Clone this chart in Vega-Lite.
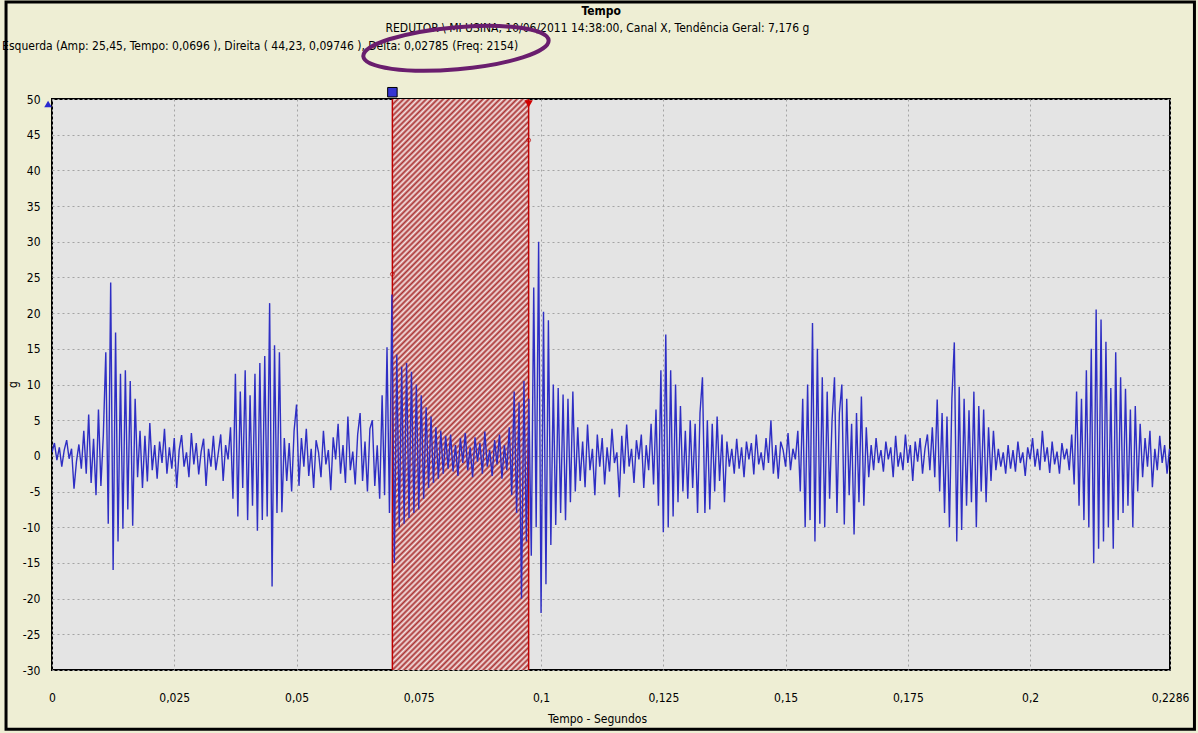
{
"$schema": "https://vega.github.io/schema/vega-lite/v6.json",
"width": 1118,
"height": 571,
"autosize": {"type": "none"},
"padding": {"left": 52, "top": 99, "right": 28, "bottom": 63},
"background": "#eeeed4",
"config": {
  "font": "Liberation Sans Narrow, DejaVu Sans Condensed, sans-serif",
  "view": {"fill": "#e4e4e4", "stroke": "#000000", "strokeWidth": 2},
  "axis": {"labelFont": "Liberation Sans Narrow, DejaVu Sans Condensed, sans-serif", "labelFontSize": 12, "labelColor": "#000000", "titleFont": "Liberation Sans Narrow, DejaVu Sans Condensed, sans-serif", "titleFontSize": 12, "titleColor": "#000000", "titleFontWeight": "normal"}
},
"encoding": {
  "x": {"type": "quantitative", "scale": {"domain": [0, 0.2286], "nice": false, "zero": false},
    "axis": {"values": [0, 0.025, 0.05, 0.075, 0.1, 0.125, 0.15, 0.175, 0.2, 0.2286], "labelExpr": "replace(format(datum.value, ''), '.', ',')", "labelFlush": false, "labelOverlap": false, "labelPadding": 22, "ticks": false, "tickSize": 0, "domain": false, "grid": true, "gridDash": [2, 3], "gridColor": "#a4a4a4", "title": "Tempo - Segundos", "titleX": 545, "titleY": 48, "titleBaseline": "middle"}},
  "y": {"type": "quantitative", "scale": {"domain": [-30, 50], "nice": false, "zero": false},
    "axis": {"values": [-30, -25, -20, -15, -10, -5, 0, 5, 10, 15, 20, 25, 30, 35, 40, 45, 50], "labelExpr": "'' + datum.value", "labelPadding": 12, "ticks": false, "tickSize": 0, "domain": false, "grid": true, "gridDash": [2, 3], "gridColor": "#a4a4a4", "title": "g", "titleX": -40, "titleY": 285, "titleBaseline": "middle"}}
},
"layer": [
  {
    "data": {"values": [{}]},
    "mark": {"type": "rect", "fill": {"gradient": "linear", "x1": 0, "y1": 0, "x2": 0.2789, "y2": 1.1716, "stops": [
      {"offset":0,"color":"#a33"},{"offset":0.004,"color":"#f6e6e6"},{"offset":0.008,"color":"#a33"},{"offset":0.012,"color":"#f6e6e6"},{"offset":0.016,"color":"#a33"},{"offset":0.02,"color":"#f6e6e6"},{"offset":0.024,"color":"#a33"},{"offset":0.028,"color":"#f6e6e6"},{"offset":0.032,"color":"#a33"},{"offset":0.036,"color":"#f6e6e6"},
      {"offset":0.04,"color":"#a33"},{"offset":0.044,"color":"#f6e6e6"},{"offset":0.048,"color":"#a33"},{"offset":0.052,"color":"#f6e6e6"},{"offset":0.056,"color":"#a33"},{"offset":0.06,"color":"#f6e6e6"},{"offset":0.064,"color":"#a33"},{"offset":0.068,"color":"#f6e6e6"},{"offset":0.072,"color":"#a33"},{"offset":0.076,"color":"#f6e6e6"},
      {"offset":0.08,"color":"#a33"},{"offset":0.084,"color":"#f6e6e6"},{"offset":0.088,"color":"#a33"},{"offset":0.092,"color":"#f6e6e6"},{"offset":0.096,"color":"#a33"},{"offset":0.1,"color":"#f6e6e6"},{"offset":0.104,"color":"#a33"},{"offset":0.108,"color":"#f6e6e6"},{"offset":0.112,"color":"#a33"},{"offset":0.116,"color":"#f6e6e6"},
      {"offset":0.12,"color":"#a33"},{"offset":0.124,"color":"#f6e6e6"},{"offset":0.128,"color":"#a33"},{"offset":0.132,"color":"#f6e6e6"},{"offset":0.136,"color":"#a33"},{"offset":0.14,"color":"#f6e6e6"},{"offset":0.144,"color":"#a33"},{"offset":0.148,"color":"#f6e6e6"},{"offset":0.152,"color":"#a33"},{"offset":0.156,"color":"#f6e6e6"},
      {"offset":0.16,"color":"#a33"},{"offset":0.164,"color":"#f6e6e6"},{"offset":0.168,"color":"#a33"},{"offset":0.172,"color":"#f6e6e6"},{"offset":0.176,"color":"#a33"},{"offset":0.18,"color":"#f6e6e6"},{"offset":0.184,"color":"#a33"},{"offset":0.188,"color":"#f6e6e6"},{"offset":0.192,"color":"#a33"},{"offset":0.196,"color":"#f6e6e6"},
      {"offset":0.2,"color":"#a33"},{"offset":0.204,"color":"#f6e6e6"},{"offset":0.208,"color":"#a33"},{"offset":0.212,"color":"#f6e6e6"},{"offset":0.216,"color":"#a33"},{"offset":0.22,"color":"#f6e6e6"},{"offset":0.224,"color":"#a33"},{"offset":0.228,"color":"#f6e6e6"},{"offset":0.232,"color":"#a33"},{"offset":0.236,"color":"#f6e6e6"},
      {"offset":0.24,"color":"#a33"},{"offset":0.244,"color":"#f6e6e6"},{"offset":0.248,"color":"#a33"},{"offset":0.252,"color":"#f6e6e6"},{"offset":0.256,"color":"#a33"},{"offset":0.26,"color":"#f6e6e6"},{"offset":0.264,"color":"#a33"},{"offset":0.268,"color":"#f6e6e6"},{"offset":0.272,"color":"#a33"},{"offset":0.276,"color":"#f6e6e6"},
      {"offset":0.28,"color":"#a33"},{"offset":0.284,"color":"#f6e6e6"},{"offset":0.288,"color":"#a33"},{"offset":0.292,"color":"#f6e6e6"},{"offset":0.296,"color":"#a33"},{"offset":0.3,"color":"#f6e6e6"},{"offset":0.304,"color":"#a33"},{"offset":0.308,"color":"#f6e6e6"},{"offset":0.312,"color":"#a33"},{"offset":0.316,"color":"#f6e6e6"},
      {"offset":0.32,"color":"#a33"},{"offset":0.324,"color":"#f6e6e6"},{"offset":0.328,"color":"#a33"},{"offset":0.332,"color":"#f6e6e6"},{"offset":0.336,"color":"#a33"},{"offset":0.34,"color":"#f6e6e6"},{"offset":0.344,"color":"#a33"},{"offset":0.348,"color":"#f6e6e6"},{"offset":0.352,"color":"#a33"},{"offset":0.356,"color":"#f6e6e6"},
      {"offset":0.36,"color":"#a33"},{"offset":0.364,"color":"#f6e6e6"},{"offset":0.368,"color":"#a33"},{"offset":0.372,"color":"#f6e6e6"},{"offset":0.376,"color":"#a33"},{"offset":0.38,"color":"#f6e6e6"},{"offset":0.384,"color":"#a33"},{"offset":0.388,"color":"#f6e6e6"},{"offset":0.392,"color":"#a33"},{"offset":0.396,"color":"#f6e6e6"},
      {"offset":0.4,"color":"#a33"},{"offset":0.404,"color":"#f6e6e6"},{"offset":0.408,"color":"#a33"},{"offset":0.412,"color":"#f6e6e6"},{"offset":0.416,"color":"#a33"},{"offset":0.42,"color":"#f6e6e6"},{"offset":0.424,"color":"#a33"},{"offset":0.428,"color":"#f6e6e6"},{"offset":0.432,"color":"#a33"},{"offset":0.436,"color":"#f6e6e6"},
      {"offset":0.44,"color":"#a33"},{"offset":0.444,"color":"#f6e6e6"},{"offset":0.448,"color":"#a33"},{"offset":0.452,"color":"#f6e6e6"},{"offset":0.456,"color":"#a33"},{"offset":0.46,"color":"#f6e6e6"},{"offset":0.464,"color":"#a33"},{"offset":0.468,"color":"#f6e6e6"},{"offset":0.472,"color":"#a33"},{"offset":0.476,"color":"#f6e6e6"},
      {"offset":0.48,"color":"#a33"},{"offset":0.484,"color":"#f6e6e6"},{"offset":0.488,"color":"#a33"},{"offset":0.492,"color":"#f6e6e6"},{"offset":0.496,"color":"#a33"},{"offset":0.5,"color":"#f6e6e6"},{"offset":0.504,"color":"#a33"},{"offset":0.508,"color":"#f6e6e6"},{"offset":0.512,"color":"#a33"},{"offset":0.516,"color":"#f6e6e6"},
      {"offset":0.52,"color":"#a33"},{"offset":0.524,"color":"#f6e6e6"},{"offset":0.528,"color":"#a33"},{"offset":0.532,"color":"#f6e6e6"},{"offset":0.536,"color":"#a33"},{"offset":0.54,"color":"#f6e6e6"},{"offset":0.544,"color":"#a33"},{"offset":0.548,"color":"#f6e6e6"},{"offset":0.552,"color":"#a33"},{"offset":0.556,"color":"#f6e6e6"},
      {"offset":0.56,"color":"#a33"},{"offset":0.564,"color":"#f6e6e6"},{"offset":0.568,"color":"#a33"},{"offset":0.572,"color":"#f6e6e6"},{"offset":0.576,"color":"#a33"},{"offset":0.58,"color":"#f6e6e6"},{"offset":0.584,"color":"#a33"},{"offset":0.588,"color":"#f6e6e6"},{"offset":0.592,"color":"#a33"},{"offset":0.596,"color":"#f6e6e6"},
      {"offset":0.6,"color":"#a33"},{"offset":0.604,"color":"#f6e6e6"},{"offset":0.608,"color":"#a33"},{"offset":0.612,"color":"#f6e6e6"},{"offset":0.616,"color":"#a33"},{"offset":0.62,"color":"#f6e6e6"},{"offset":0.624,"color":"#a33"},{"offset":0.628,"color":"#f6e6e6"},{"offset":0.632,"color":"#a33"},{"offset":0.636,"color":"#f6e6e6"},
      {"offset":0.64,"color":"#a33"},{"offset":0.644,"color":"#f6e6e6"},{"offset":0.648,"color":"#a33"},{"offset":0.652,"color":"#f6e6e6"},{"offset":0.656,"color":"#a33"},{"offset":0.66,"color":"#f6e6e6"},{"offset":0.664,"color":"#a33"},{"offset":0.668,"color":"#f6e6e6"},{"offset":0.672,"color":"#a33"},{"offset":0.676,"color":"#f6e6e6"},
      {"offset":0.68,"color":"#a33"},{"offset":0.684,"color":"#f6e6e6"},{"offset":0.688,"color":"#a33"},{"offset":0.692,"color":"#f6e6e6"},{"offset":0.696,"color":"#a33"},{"offset":0.7,"color":"#f6e6e6"},{"offset":0.704,"color":"#a33"},{"offset":0.708,"color":"#f6e6e6"},{"offset":0.712,"color":"#a33"},{"offset":0.716,"color":"#f6e6e6"},
      {"offset":0.72,"color":"#a33"},{"offset":0.724,"color":"#f6e6e6"},{"offset":0.728,"color":"#a33"},{"offset":0.732,"color":"#f6e6e6"},{"offset":0.736,"color":"#a33"},{"offset":0.74,"color":"#f6e6e6"},{"offset":0.744,"color":"#a33"},{"offset":0.748,"color":"#f6e6e6"},{"offset":0.752,"color":"#a33"},{"offset":0.756,"color":"#f6e6e6"},
      {"offset":0.76,"color":"#a33"},{"offset":0.764,"color":"#f6e6e6"},{"offset":0.768,"color":"#a33"},{"offset":0.772,"color":"#f6e6e6"},{"offset":0.776,"color":"#a33"},{"offset":0.78,"color":"#f6e6e6"},{"offset":0.784,"color":"#a33"},{"offset":0.788,"color":"#f6e6e6"},{"offset":0.792,"color":"#a33"},{"offset":0.796,"color":"#f6e6e6"},
      {"offset":0.8,"color":"#a33"},{"offset":0.804,"color":"#f6e6e6"},{"offset":0.808,"color":"#a33"},{"offset":0.812,"color":"#f6e6e6"},{"offset":0.816,"color":"#a33"},{"offset":0.82,"color":"#f6e6e6"},{"offset":0.824,"color":"#a33"},{"offset":0.828,"color":"#f6e6e6"},{"offset":0.832,"color":"#a33"},{"offset":0.836,"color":"#f6e6e6"},
      {"offset":0.84,"color":"#a33"},{"offset":0.844,"color":"#f6e6e6"},{"offset":0.848,"color":"#a33"},{"offset":0.852,"color":"#f6e6e6"},{"offset":0.856,"color":"#a33"},{"offset":0.86,"color":"#f6e6e6"},{"offset":0.864,"color":"#a33"},{"offset":0.868,"color":"#f6e6e6"},{"offset":0.872,"color":"#a33"},{"offset":0.876,"color":"#f6e6e6"},
      {"offset":0.88,"color":"#a33"},{"offset":0.884,"color":"#f6e6e6"},{"offset":0.888,"color":"#a33"},{"offset":0.892,"color":"#f6e6e6"},{"offset":0.896,"color":"#a33"},{"offset":0.9,"color":"#f6e6e6"},{"offset":0.904,"color":"#a33"},{"offset":0.908,"color":"#f6e6e6"},{"offset":0.912,"color":"#a33"},{"offset":0.916,"color":"#f6e6e6"},
      {"offset":0.92,"color":"#a33"},{"offset":0.924,"color":"#f6e6e6"},{"offset":0.928,"color":"#a33"},{"offset":0.932,"color":"#f6e6e6"},{"offset":0.936,"color":"#a33"},{"offset":0.94,"color":"#f6e6e6"},{"offset":0.944,"color":"#a33"},{"offset":0.948,"color":"#f6e6e6"},{"offset":0.952,"color":"#a33"},{"offset":0.956,"color":"#f6e6e6"},
      {"offset":0.96,"color":"#a33"},{"offset":0.964,"color":"#f6e6e6"},{"offset":0.968,"color":"#a33"},{"offset":0.972,"color":"#f6e6e6"},{"offset":0.976,"color":"#a33"},{"offset":0.98,"color":"#f6e6e6"},{"offset":0.984,"color":"#a33"},{"offset":0.988,"color":"#f6e6e6"},{"offset":0.992,"color":"#a33"},{"offset":0.996,"color":"#f6e6e6"},
      {"offset":1,"color":"#a33"}
    ]}},
    "encoding": {"x": {"datum": 0.0696, "type": "quantitative"}, "x2": {"datum": 0.09746}, "y": {"datum": 50, "type": "quantitative"}, "y2": {"datum": -30}}
  },
  {
    "data": {"values": [{"t": 0.0696, "g": 25.45}, {"t": 0.09746, "g": 44.23}]},
    "mark": {"type": "rule", "color": "#c00000", "strokeWidth": 1.5},
    "encoding": {"x": {"field": "t", "type": "quantitative"}}
  },
  {
    "data": {"values": [
{"t":0,"g":0.5},{"t":0.0005,"g":1.8},{"t":0.001,"g":-0.6},{"t":0.0015,"g":1.2},{"t":0.002,"g":-1.5},{"t":0.0025,"g":0.8},{"t":0.003,"g":2.2},{"t":0.0035,"g":-0.4},{"t":0.004,"g":1.0},{"t":0.0045,"g":-4.6},
{"t":0.005,"g":-0.8},{"t":0.0055,"g":1.6},{"t":0.006,"g":-1.8},{"t":0.0065,"g":3.5},{"t":0.007,"g":-2.5},{"t":0.0075,"g":5.8},{"t":0.008,"g":-3.8},{"t":0.0085,"g":2.4},{"t":0.009,"g":-5.5},{"t":0.0095,"g":6.5},
{"t":0.01,"g":-4.2},{"t":0.0105,"g":3.0},{"t":0.011,"g":14.5},{"t":0.0115,"g":-9.5},{"t":0.012,"g":24.3},{"t":0.0125,"g":-16.0},{"t":0.013,"g":17.3},{"t":0.0135,"g":-12.0},{"t":0.014,"g":11.5},{"t":0.0145,"g":-10.2},
{"t":0.015,"g":12.0},{"t":0.0155,"g":-7.5},{"t":0.016,"g":10.5},{"t":0.0165,"g":-9.8},{"t":0.017,"g":8.0},{"t":0.0175,"g":-3.0},{"t":0.018,"g":3.5},{"t":0.0185,"g":-4.5},{"t":0.019,"g":2.8},{"t":0.0195,"g":-3.6},
{"t":0.02,"g":4.6},{"t":0.0205,"g":-2.0},{"t":0.021,"g":1.5},{"t":0.0215,"g":-3.2},{"t":0.022,"g":2.0},{"t":0.0225,"g":-1.0},{"t":0.023,"g":3.8},{"t":0.0235,"g":-2.5},{"t":0.024,"g":1.2},{"t":0.0245,"g":-1.8},
{"t":0.025,"g":2.5},{"t":0.0255,"g":-4.5},{"t":0.026,"g":0.8},{"t":0.0265,"g":2.9},{"t":0.027,"g":-1.5},{"t":0.0275,"g":0.5},{"t":0.028,"g":-3.0},{"t":0.0285,"g":3.2},{"t":0.029,"g":-1.2},{"t":0.0295,"g":1.8},
{"t":0.03,"g":-2.6},{"t":0.0305,"g":0.6},{"t":0.031,"g":2.4},{"t":0.0315,"g":-4.2},{"t":0.032,"g":1.0},{"t":0.0325,"g":-1.5},{"t":0.033,"g":2.8},{"t":0.0335,"g":-2.0},{"t":0.034,"g":0.4},{"t":0.0345,"g":3.0},
{"t":0.035,"g":-3.5},{"t":0.0355,"g":1.5},{"t":0.036,"g":-0.5},{"t":0.0365,"g":4.0},{"t":0.037,"g":-6.0},{"t":0.0375,"g":11.5},{"t":0.038,"g":-8.5},{"t":0.0385,"g":9.0},{"t":0.039,"g":-4.5},{"t":0.0395,"g":12.0},
{"t":0.04,"g":-9.0},{"t":0.0405,"g":8.5},{"t":0.041,"g":-7.0},{"t":0.0415,"g":11.5},{"t":0.042,"g":-10.5},{"t":0.0425,"g":13.0},{"t":0.043,"g":-9.0},{"t":0.0435,"g":14.0},{"t":0.044,"g":-8.5},{"t":0.0445,"g":21.4},
{"t":0.045,"g":-18.3},{"t":0.0455,"g":15.5},{"t":0.046,"g":-8.0},{"t":0.0465,"g":14.5},{"t":0.047,"g":-7.9},{"t":0.0475,"g":2.5},{"t":0.048,"g":-3.5},{"t":0.0485,"g":1.8},{"t":0.049,"g":-5.0},{"t":0.0495,"g":3.5},
{"t":0.05,"g":7.2},{"t":0.0505,"g":-4.2},{"t":0.051,"g":2.5},{"t":0.0515,"g":-1.5},{"t":0.052,"g":3.8},{"t":0.0525,"g":-2.8},{"t":0.053,"g":1.0},{"t":0.0535,"g":-4.5},{"t":0.054,"g":2.2},{"t":0.0545,"g":0.5},
{"t":0.055,"g":-3.0},{"t":0.0555,"g":3.5},{"t":0.056,"g":-1.2},{"t":0.0565,"g":0.8},{"t":0.057,"g":-4.8},{"t":0.0575,"g":2.6},{"t":0.058,"g":-0.5},{"t":0.0585,"g":4.5},{"t":0.059,"g":-2.5},{"t":0.0595,"g":1.5},
{"t":0.06,"g":-3.8},{"t":0.0605,"g":5.5},{"t":0.061,"g":-2.0},{"t":0.0615,"g":0.6},{"t":0.062,"g":-4.0},{"t":0.0625,"g":3.0},{"t":0.063,"g":6.0},{"t":0.0635,"g":-3.5},{"t":0.064,"g":2.0},{"t":0.0645,"g":-5.0},
{"t":0.065,"g":3.8},{"t":0.0655,"g":5.0},{"t":0.066,"g":-4.2},{"t":0.0665,"g":1.5},{"t":0.067,"g":-6.0},{"t":0.0675,"g":8.5},{"t":0.068,"g":-5.5},{"t":0.0685,"g":15.2},{"t":0.069,"g":-8.0},{"t":0.0695,"g":22.6},
{"t":0.07,"g":-15.0},{"t":0.0705,"g":14.2},{"t":0.071,"g":-10.0},{"t":0.0715,"g":12.5},{"t":0.072,"g":-9.5},{"t":0.0725,"g":13.0},{"t":0.073,"g":-8.7},{"t":0.0735,"g":11.8},{"t":0.074,"g":-8.0},{"t":0.0745,"g":10.0},
{"t":0.075,"g":-7.5},{"t":0.0755,"g":8.5},{"t":0.076,"g":-6.0},{"t":0.0765,"g":6.8},{"t":0.077,"g":-4.5},{"t":0.0775,"g":5.5},{"t":0.078,"g":-3.8},{"t":0.0785,"g":4.0},{"t":0.079,"g":-3.2},{"t":0.0795,"g":3.5},
{"t":0.08,"g":-2.5},{"t":0.0805,"g":2.8},{"t":0.081,"g":-1.8},{"t":0.0815,"g":3.0},{"t":0.082,"g":-2.2},{"t":0.0825,"g":1.5},{"t":0.083,"g":-2.8},{"t":0.0835,"g":2.5},{"t":0.084,"g":-1.0},{"t":0.0845,"g":3.2},
{"t":0.085,"g":-2.0},{"t":0.0855,"g":1.2},{"t":0.086,"g":-3.0},{"t":0.0865,"g":2.6},{"t":0.087,"g":-0.8},{"t":0.0875,"g":1.8},{"t":0.088,"g":-2.5},{"t":0.0885,"g":3.4},{"t":0.089,"g":-1.5},{"t":0.0895,"g":0.8},
{"t":0.09,"g":-2.8},{"t":0.0905,"g":2.2},{"t":0.091,"g":-1.2},{"t":0.0915,"g":3.0},{"t":0.092,"g":-3.2},{"t":0.0925,"g":1.5},{"t":0.093,"g":-2.0},{"t":0.0935,"g":4.0},{"t":0.094,"g":-5.5},{"t":0.0945,"g":9.0},
{"t":0.095,"g":-8.0},{"t":0.0955,"g":7.5},{"t":0.096,"g":-20.0},{"t":0.0965,"g":10.5},{"t":0.097,"g":-12.0},{"t":0.0975,"g":8.0},{"t":0.098,"g":-14.0},{"t":0.0985,"g":23.6},{"t":0.099,"g":-10.0},{"t":0.0995,"g":30.0},
{"t":0.1,"g":-22.0},{"t":0.1005,"g":20.2},{"t":0.101,"g":-18.0},{"t":0.1015,"g":19.0},{"t":0.102,"g":-12.5},{"t":0.1025,"g":10.0},{"t":0.103,"g":-9.7},{"t":0.1035,"g":9.5},{"t":0.104,"g":-8.0},{"t":0.1045,"g":8.6},
{"t":0.105,"g":-9.0},{"t":0.1055,"g":8.0},{"t":0.106,"g":-6.5},{"t":0.1065,"g":9.0},{"t":0.107,"g":-5.0},{"t":0.1075,"g":4.0},{"t":0.108,"g":-3.5},{"t":0.1085,"g":2.0},{"t":0.109,"g":-4.4},{"t":0.1095,"g":4.4},
{"t":0.11,"g":-2.0},{"t":0.1105,"g":1.0},{"t":0.111,"g":-5.5},{"t":0.1115,"g":3.0},{"t":0.112,"g":-1.5},{"t":0.1125,"g":2.5},{"t":0.113,"g":-4.0},{"t":0.1135,"g":1.2},{"t":0.114,"g":-2.2},{"t":0.1145,"g":3.8},
{"t":0.115,"g":-1.0},{"t":0.1155,"g":0.5},{"t":0.116,"g":-5.8},{"t":0.1165,"g":2.8},{"t":0.117,"g":-2.5},{"t":0.1175,"g":4.4},{"t":0.118,"g":-1.5},{"t":0.1185,"g":1.0},{"t":0.119,"g":-3.8},{"t":0.1195,"g":2.2},
{"t":0.12,"g":-0.5},{"t":0.1205,"g":3.0},{"t":0.121,"g":-4.5},{"t":0.1215,"g":1.5},{"t":0.122,"g":-2.0},{"t":0.1225,"g":4.5},{"t":0.123,"g":-4.0},{"t":0.1235,"g":6.5},{"t":0.124,"g":-7.0},{"t":0.1245,"g":12.0},
{"t":0.125,"g":-10.7},{"t":0.1255,"g":17.0},{"t":0.126,"g":-10.0},{"t":0.1265,"g":12.0},{"t":0.127,"g":-8.5},{"t":0.1275,"g":10.0},{"t":0.128,"g":-6.5},{"t":0.1285,"g":7.0},{"t":0.129,"g":-5.0},{"t":0.1295,"g":3.5},
{"t":0.13,"g":-6.0},{"t":0.1305,"g":5.0},{"t":0.131,"g":-4.5},{"t":0.1315,"g":4.5},{"t":0.132,"g":-8.0},{"t":0.1325,"g":6.0},{"t":0.133,"g":11.0},{"t":0.1335,"g":-8.0},{"t":0.134,"g":5.0},{"t":0.1345,"g":-7.5},
{"t":0.135,"g":4.5},{"t":0.1355,"g":-5.0},{"t":0.136,"g":5.5},{"t":0.1365,"g":-3.5},{"t":0.137,"g":3.0},{"t":0.1375,"g":-6.5},{"t":0.138,"g":2.0},{"t":0.1385,"g":-1.5},{"t":0.139,"g":1.0},{"t":0.1395,"g":-2.5},
{"t":0.14,"g":2.4},{"t":0.1405,"g":-1.8},{"t":0.141,"g":1.2},{"t":0.1415,"g":-3.0},{"t":0.142,"g":2.0},{"t":0.1425,"g":-0.5},{"t":0.143,"g":1.8},{"t":0.1435,"g":-2.6},{"t":0.144,"g":3.0},{"t":0.1445,"g":-1.2},
{"t":0.145,"g":0.5},{"t":0.1455,"g":-2.0},{"t":0.146,"g":2.5},{"t":0.1465,"g":-1.0},{"t":0.147,"g":5.0},{"t":0.1475,"g":-2.5},{"t":0.148,"g":1.5},{"t":0.1485,"g":-3.2},{"t":0.149,"g":2.0},{"t":0.1495,"g":0.8},
{"t":0.15,"g":-1.5},{"t":0.1505,"g":3.2},{"t":0.151,"g":-2.0},{"t":0.1515,"g":1.0},{"t":0.152,"g":-0.5},{"t":0.1525,"g":3.5},{"t":0.153,"g":-5.0},{"t":0.1535,"g":8.0},{"t":0.154,"g":-10.0},{"t":0.1545,"g":10.0},
{"t":0.155,"g":-9.0},{"t":0.1555,"g":18.6},{"t":0.156,"g":-12.0},{"t":0.1565,"g":15.0},{"t":0.157,"g":-9.5},{"t":0.1575,"g":11.0},{"t":0.158,"g":-10.0},{"t":0.1585,"g":9.0},{"t":0.159,"g":-6.0},{"t":0.1595,"g":5.0},
{"t":0.16,"g":11.0},{"t":0.1605,"g":-8.0},{"t":0.161,"g":6.0},{"t":0.1615,"g":10.0},{"t":0.162,"g":-9.6},{"t":0.1625,"g":8.0},{"t":0.163,"g":-5.5},{"t":0.1635,"g":4.5},{"t":0.164,"g":-11.0},{"t":0.1645,"g":6.0},
{"t":0.165,"g":-6.5},{"t":0.1655,"g":8.3},{"t":0.166,"g":-7.0},{"t":0.1665,"g":4.0},{"t":0.167,"g":-3.0},{"t":0.1675,"g":1.5},{"t":0.168,"g":-2.0},{"t":0.1685,"g":2.5},{"t":0.169,"g":-1.0},{"t":0.1695,"g":0.8},
{"t":0.17,"g":-2.2},{"t":0.1705,"g":2.0},{"t":0.171,"g":-0.5},{"t":0.1715,"g":1.2},{"t":0.172,"g":-3.0},{"t":0.1725,"g":2.8},{"t":0.173,"g":-1.5},{"t":0.1735,"g":0.5},{"t":0.174,"g":-2.0},{"t":0.1745,"g":3.0},
{"t":0.175,"g":-1.0},{"t":0.1755,"g":1.5},{"t":0.176,"g":-3.5},{"t":0.1765,"g":2.0},{"t":0.177,"g":-0.8},{"t":0.1775,"g":2.5},{"t":0.178,"g":-2.5},{"t":0.1785,"g":1.0},{"t":0.179,"g":3.0},{"t":0.1795,"g":-2.0},
{"t":0.18,"g":4.0},{"t":0.1805,"g":-3.0},{"t":0.181,"g":7.9},{"t":0.1815,"g":-5.0},{"t":0.182,"g":6.0},{"t":0.1825,"g":-8.0},{"t":0.183,"g":5.5},{"t":0.1835,"g":-10.0},{"t":0.184,"g":8.0},{"t":0.1845,"g":15.9},
{"t":0.185,"g":-12.0},{"t":0.1855,"g":9.7},{"t":0.186,"g":-10.4},{"t":0.1865,"g":8.0},{"t":0.187,"g":-7.0},{"t":0.1875,"g":6.4},{"t":0.188,"g":-6.5},{"t":0.1885,"g":9.0},{"t":0.189,"g":-10.0},{"t":0.1895,"g":7.0},
{"t":0.19,"g":-5.0},{"t":0.1905,"g":6.5},{"t":0.191,"g":-6.5},{"t":0.1915,"g":4.0},{"t":0.192,"g":-3.5},{"t":0.1925,"g":3.5},{"t":0.193,"g":-2.0},{"t":0.1935,"g":1.0},{"t":0.194,"g":-1.5},{"t":0.1945,"g":0.5},
{"t":0.195,"g":-2.5},{"t":0.1955,"g":1.5},{"t":0.196,"g":-1.8},{"t":0.1965,"g":0.8},{"t":0.197,"g":-2.2},{"t":0.1975,"g":2.0},{"t":0.198,"g":-1.0},{"t":0.1985,"g":0.5},{"t":0.199,"g":-2.8},{"t":0.1995,"g":1.2},
{"t":0.2,"g":-0.5},{"t":0.2005,"g":2.5},{"t":0.201,"g":-1.5},{"t":0.2015,"g":1.0},{"t":0.202,"g":-2.0},{"t":0.2025,"g":3.5},{"t":0.203,"g":-0.8},{"t":0.2035,"g":1.2},{"t":0.204,"g":-2.4},{"t":0.2045,"g":2.0},
{"t":0.205,"g":-1.2},{"t":0.2055,"g":0.6},{"t":0.206,"g":-2.5},{"t":0.2065,"g":1.8},{"t":0.207,"g":-0.5},{"t":0.2075,"g":1.0},{"t":0.208,"g":-2.0},{"t":0.2085,"g":3.0},{"t":0.209,"g":-4.0},{"t":0.2095,"g":9.0},
{"t":0.21,"g":-7.0},{"t":0.2105,"g":8.0},{"t":0.211,"g":-9.0},{"t":0.2115,"g":12.0},{"t":0.212,"g":-10.0},{"t":0.2125,"g":15.0},{"t":0.213,"g":-15.0},{"t":0.2135,"g":20.5},{"t":0.214,"g":-13.0},{"t":0.2145,"g":19.1},
{"t":0.215,"g":-12.0},{"t":0.2155,"g":16.0},{"t":0.216,"g":-10.0},{"t":0.2165,"g":9.5},{"t":0.217,"g":-13.0},{"t":0.2175,"g":14.5},{"t":0.218,"g":-9.0},{"t":0.2185,"g":11.0},{"t":0.219,"g":-8.0},{"t":0.2195,"g":9.4},
{"t":0.22,"g":-7.0},{"t":0.2205,"g":6.5},{"t":0.221,"g":-10.0},{"t":0.2215,"g":7.0},{"t":0.222,"g":-5.0},{"t":0.2225,"g":4.5},{"t":0.223,"g":-3.0},{"t":0.2235,"g":2.5},{"t":0.224,"g":-1.5},{"t":0.2245,"g":3.5},
{"t":0.225,"g":-4.4},{"t":0.2255,"g":1.0},{"t":0.226,"g":-2.0},{"t":0.2265,"g":2.8},{"t":0.227,"g":-1.0},{"t":0.2275,"g":1.5},{"t":0.228,"g":-2.5},{"t":0.2285,"g":1.0}
    ]},
    "mark": {"type": "line", "color": "#2e2ec4", "strokeWidth": 1.4, "clip": true},
    "encoding": {"x": {"field": "t", "type": "quantitative"}, "y": {"field": "g", "type": "quantitative"}}
  },
  {
    "data": {"values": [{"t": 0.0696, "g": 25.45}, {"t": 0.09746, "g": 44.23}]},
    "mark": {"type": "point", "shape": "circle", "size": 16, "filled": false, "stroke": "#c00000", "strokeWidth": 1},
    "encoding": {"x": {"field": "t", "type": "quantitative"}, "y": {"field": "g", "type": "quantitative"}}
  },
  {
    "data": {"values": [{}]},
    "mark": {"type": "point", "shape": "square", "size": 90, "filled": true, "fill": "#3434d0", "stroke": "#000000", "strokeWidth": 1, "opacity": 1, "clip": false},
    "encoding": {"x": {"datum": 0.0696, "type": "quantitative"}, "y": {"datum": 50.95, "type": "quantitative"}}
  },
  {
    "data": {"values": [{}]},
    "mark": {"type": "point", "shape": "triangle-down", "size": 70, "filled": true, "fill": "#d00000", "opacity": 1, "clip": false},
    "encoding": {"x": {"datum": 0.09746, "type": "quantitative"}, "y": {"datum": 49.3, "type": "quantitative"}}
  },
  {
    "data": {"values": [{}]},
    "mark": {"type": "point", "shape": "triangle-up", "size": 60, "filled": true, "fill": "#2a2ad0", "opacity": 1, "clip": false},
    "encoding": {"x": {"datum": -0.0008, "type": "quantitative"}, "y": {"datum": 49.3, "type": "quantitative"}}
  },
  {
    "data": {"values": [{}]},
    "mark": {"type": "text", "text": "Tempo", "align": "center", "baseline": "middle", "font": "Liberation Sans Narrow, DejaVu Sans Condensed, sans-serif", "fontSize": 12, "fontWeight": "bold", "color": "#000000", "clip": false},
    "encoding": {"x": {"datum": 0.1123, "type": "quantitative"}, "y": {"datum": 62.3, "type": "quantitative"}}
  },
  {
    "data": {"values": [{}]},
    "mark": {"type": "text", "text": "REDUTOR \\ MI USINA, 10/06/2011 14:38:00, Canal X, Tendência Geral: 7,176 g", "align": "left", "baseline": "middle", "font": "Liberation Sans Narrow, DejaVu Sans Condensed, sans-serif", "fontSize": 12, "color": "#000000", "clip": false},
    "encoding": {"x": {"datum": 0.0682, "type": "quantitative"}, "y": {"datum": 59.9, "type": "quantitative"}}
  },
  {
    "data": {"values": [{}]},
    "mark": {"type": "text", "text": "Esquerda (Amp: 25,45, Tempo: 0,0696 ), Direita (  44,23,  0,09746 ), Delta: 0,02785 (Freq: 2154)", "align": "left", "baseline": "middle", "font": "Liberation Sans Narrow, DejaVu Sans Condensed, sans-serif", "fontSize": 12, "color": "#000000", "clip": false},
    "encoding": {"x": {"datum": -0.0102, "type": "quantitative"}, "y": {"datum": 57.4, "type": "quantitative"}}
  },
  {
    "data": {"values": [{}]},
    "mark": {"type": "point", "shape": "M-1,0A1,0.226,0,1,0,1,0A1,0.226,0,1,0,-1,0Z", "size": 34596, "filled": false, "stroke": "#6a1e6e", "strokeWidth": 4, "angle": -5, "opacity": 1, "clip": false},
    "encoding": {"x": {"datum": 0.0826, "type": "quantitative"}, "y": {"datum": 57.1, "type": "quantitative"}}
  },
  {
    "data": {"values": [{}]},
    "mark": {"type": "rect", "fillOpacity": 0, "stroke": "#000000", "strokeWidth": 3, "clip": false},
    "encoding": {"x": {"datum": -0.0094, "type": "quantitative"}, "x2": {"datum": 0.2336}, "y": {"datum": 63.6, "type": "quantitative"}, "y2": {"datum": -38.3}}
  }
]
}
